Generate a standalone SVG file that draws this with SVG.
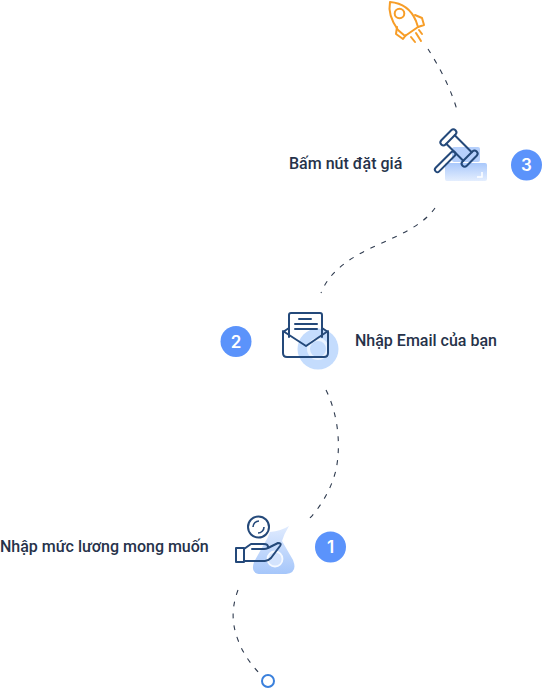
<svg xmlns="http://www.w3.org/2000/svg" width="542" height="688" viewBox="0 0 542 688">
<defs>
<linearGradient id="g" x1="0" y1="0" x2="0" y2="1"><stop offset="0" stop-color="#a9c8fb"/><stop offset="1" stop-color="#e4eefe"/></linearGradient>
<linearGradient id="g2" x1="0" y1="0" x2="0" y2="1"><stop offset="0" stop-color="#e0ebfe"/><stop offset="1" stop-color="#a5c6fa"/></linearGradient>
</defs>
<style>
.t{font-family:Roboto,"Liberation Sans",sans-serif;font-size:16px;font-weight:500;fill:#26324a}
.n{font-family:Inter,Roboto,sans-serif;font-size:17px;font-weight:600;fill:#fff;text-anchor:middle}
.c{fill:#5b93fb}
.d{fill:none;stroke:#2e3a4e;stroke-width:1.1;stroke-dasharray:5 7}
.i{fill:none;stroke:#24497a;stroke-width:2;stroke-linejoin:round;stroke-linecap:round}
.o{fill:none;stroke:#f79d27;stroke-width:2;stroke-linejoin:round;stroke-linecap:round}
</style>
<g id="connectors">
<path class="d" d="M428 49C438 65 450 86 457 110"/>
<path class="d" d="M435 208C424 224 402 234 382 243C352 256 330 270 321 293"/>
<path class="d" d="M326 390C336 410 342 440 336 470C331 490 320 508 308 520"/>
<path class="d" d="M238 590C232 606 231 622 238 640C243 654 252 666 262 676"/>
</g>
<g id="rocket">
<path class="o" d="M390 2C402 3 411 9 416 21L418 27L405 36L398 30C393 23 388 12 390 2Z"/>
<circle class="o" cx="399.500" cy="13.500" r="4.800"/>
<path class="o" d="M415 15L422 18L424 25L418 27M397 27L396 34L403 39L406 35M411 37L415 42M416 33L421 41M419 30L422 34"/>
</g>
<g id="step-3">
<rect x="452" y="147" width="28" height="15" rx="2" fill="#b6d0fc"/>
<rect x="445" y="163" width="42" height="18" rx="2" fill="url(#g)"/>
<path d="M482 172V177H477" fill="none" stroke="#fff" stroke-width="1.500"/>
<g transform="translate(459 148) rotate(45)">
<rect class="i" x="-18" y="-10" width="6" height="20" rx="3"/>
<rect class="i" x="12" y="-10" width="6" height="20" rx="3"/>
<path class="i" d="M-12 -6H12M-12 6H12"/>
<rect class="i" x="-2.500" y="6" width="5" height="27" rx="2.500"/>
</g>
<text class="t" x="289" y="169">Bấm nút đặt giá</text>
<circle class="c" cx="526.500" cy="165" r="15.500"/>
<text class="n" x="526.500" y="171">3</text>
</g>
<g id="step-2">
<circle cx="318" cy="349" r="20.500" fill="#c4dcfd"/>
<circle cx="318" cy="349" r="9.500" fill="none" stroke="#eaf3ff" stroke-width="3"/>
<path class="i" d="M289 328L283 332V353Q283 357 287 357H324Q328 357 328 353V332L322 328M283 331L306 346L328 331"/>
<path class="i" d="M289 337V315Q289 313 291 313H320Q322 313 322 315V337"/>
<path class="i" d="M299 319H311M295 324H317M295 329H317"/>
<text class="t" x="355" y="346">Nhập Email của bạn</text>
<circle class="c" cx="236" cy="341.500" r="15.500"/>
<text class="n" x="236" y="347.500">2</text>
</g>
<g id="step-1">
<path d="M270 532Q281 531 289 526Q284 534 282 541L293 560Q298 573 286 574H261Q250 574 254 562L264 544Q268 538 270 532Z" fill="url(#g2)"/>
<circle cx="275" cy="559" r="7.500" fill="#d3e3fd" stroke="#f5f9ff" stroke-width="1.800"/>
<circle class="i" cx="258.500" cy="527" r="10.500"/>
<path d="M253 527a6 6 0 0 1 6-6M264 527a6 6 0 0 1-6 6" fill="none" stroke="#24497a" stroke-width="1.600"/>
<path class="i" d="M236 548H244V562H236ZM244 549L251 544H264Q268 544 268 547Q268 549 264 549H252M268 548L278 543Q282 543 280 546L271 558Q268 561 265 561H244"/>
<text class="t" x="0" y="552">Nhập mức lương mong muốn</text>
<circle class="c" cx="330.500" cy="547" r="15.500"/>
<text class="n" x="330.500" y="553">1</text>
</g>
<g id="end"><circle cx="268" cy="681" r="6" fill="none" stroke="#3a80dc" stroke-width="2"/></g>
</svg>
